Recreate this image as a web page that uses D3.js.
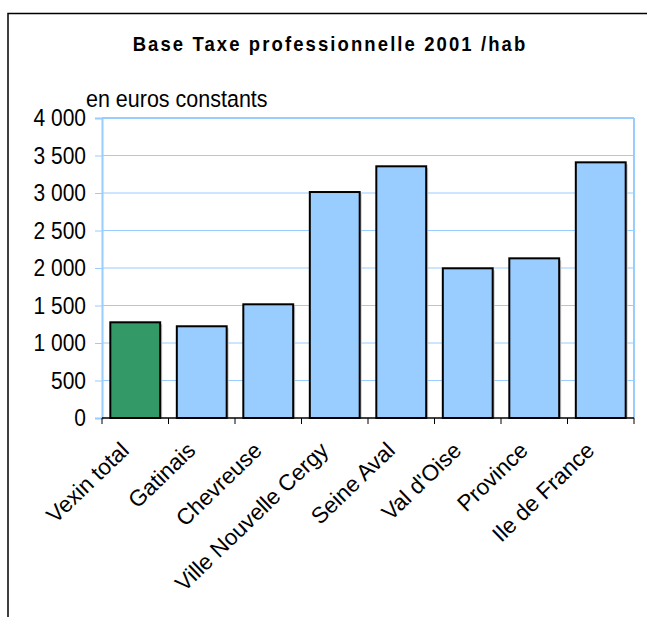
<!DOCTYPE html>
<html>
<head>
<meta charset="utf-8">
<script src="https://cdn.jsdelivr.net/npm/d3@7"></script>
<style>
  body { margin: 0; background: #fff; }
  text { font-family: "Liberation Sans", Arial, sans-serif; }
</style>
</head>
<body>
<svg id="chart" width="647" height="617"></svg>
<script>
// Chart data
const categories = ['Vexin total', 'Gatinais', 'Chevreuse', 'Ville Nouvelle Cergy',
  'Seine Aval', "Val d'Oise", 'Province', 'Ile de France'];
const values = [1276, 1223, 1516, 3013, 3356, 1996, 2129, 3409];
const yTicks = [0, 500, 1000, 1500, 2000, 2500, 3000, 3500, 4000];

// the source picture is a little stretched vertically, text too
const stretchY = 1.12;

const svg = d3.select('#chart');

// Outer frame (right and bottom edges run off the picture)
svg.append('path')
  .attr('d', 'M8,700 L8,13.5 L700,13.5')
  .style('fill', 'none')
  .style('stroke', '#000')
  .style('stroke-width', 1.5);

const plot = { left: 102, right: 634, top: 118, bottom: 418 };

const x = d3.scaleBand()
  .domain(categories)
  .range([plot.left, plot.right])
  .paddingInner(0.25)
  .paddingOuter(0.125);

const y = d3.scaleLinear()
  .domain([0, 4000])
  .range([plot.bottom, plot.top]);

// Gridlines
svg.append('g')
  .selectAll('line')
  .data(yTicks.filter(d => d > 0))
  .join('line')
  .attr('x1', plot.left)
  .attr('x2', plot.right)
  .attr('y1', d => y(d))
  .attr('y2', d => y(d))
  .style('stroke', '#99ccff')
  .style('stroke-width', d => d === 4000 ? 2 : 1);

// Right border of plot area
svg.append('line')
  .attr('x1', plot.right).attr('x2', plot.right)
  .attr('y1', plot.top).attr('y2', plot.bottom)
  .style('stroke', '#99ccff')
  .style('stroke-width', 2);

// Bar shadows
svg.append('g')
  .selectAll('rect')
  .data(values)
  .join('rect')
  .attr('x', (d, i) => x(categories[i]) + 2)
  .attr('y', d => y(d) + 2)
  .attr('width', x.bandwidth())
  .attr('height', d => plot.bottom - y(d) - 2)
  .style('fill', '#c8c8c8');

// Bars
svg.append('g')
  .selectAll('rect')
  .data(values)
  .join('rect')
  .attr('x', (d, i) => x(categories[i]))
  .attr('y', d => y(d))
  .attr('width', x.bandwidth())
  .attr('height', d => plot.bottom - y(d))
  .style('fill', (d, i) => i === 0 ? '#339966' : '#99ccff')
  .style('stroke', '#000')
  .style('stroke-width', 2);

// Y axis
const yAxis = svg.append('g')
  .attr('transform', `translate(${plot.left},0)`)
  .call(d3.axisLeft(y)
    .tickValues(yTicks)
    .tickSize(7)
    .tickPadding(9)
    .tickFormat(d => d3.format(',')(d).replace(',', ' ')));

yAxis.select('.domain').style('stroke', '#99ccff').style('stroke-width', 2);
yAxis.selectAll('.tick line').style('stroke', '#99ccff');
yAxis.selectAll('.tick text')
  .attr('dy', null)
  .attr('transform', `scale(1,${stretchY})`)
  .attr('y', 7.5 / stretchY)
  .style('font-size', '21px')
  .style('fill', '#000');

// X axis line + ticks between categories
const step = x.step();
const xAxis = svg.append('g');
xAxis.append('line')
  .attr('x1', plot.left).attr('x2', plot.right)
  .attr('y1', plot.bottom).attr('y2', plot.bottom)
  .style('stroke', '#000')
  .style('stroke-width', 1.5);
xAxis.selectAll('line.tick')
  .data(d3.range(categories.length + 1))
  .join('line')
  .attr('class', 'tick')
  .attr('x1', i => plot.left + i * step)
  .attr('x2', i => plot.left + i * step)
  .attr('y1', plot.bottom)
  .attr('y2', plot.bottom + 6)
  .style('stroke', '#000');

// Rotated category labels
xAxis.selectAll('text')
  .data(categories)
  .join('text')
  .attr('transform', d =>
    `translate(${x(d) + x.bandwidth() / 2 - 5},${plot.bottom + 34}) rotate(-44)`)
  .attr('text-anchor', 'end')
  .style('font-size', '22.5px')
  .text(d => d);

// Title and unit label
svg.append('text')
  .attr('transform', `translate(330,51) scale(1,${stretchY})`)
  .attr('text-anchor', 'middle')
  .style('font-size', '18.5px')
  .style('font-weight', 'bold')
  .style('letter-spacing', '2.1px')
  .text('Base Taxe professionnelle 2001 /hab');

svg.append('text')
  .attr('transform', `translate(86,107) scale(1,${stretchY})`)
  .style('font-size', '21.5px')
  .text('en euros constants');
</script>
</body>
</html>
